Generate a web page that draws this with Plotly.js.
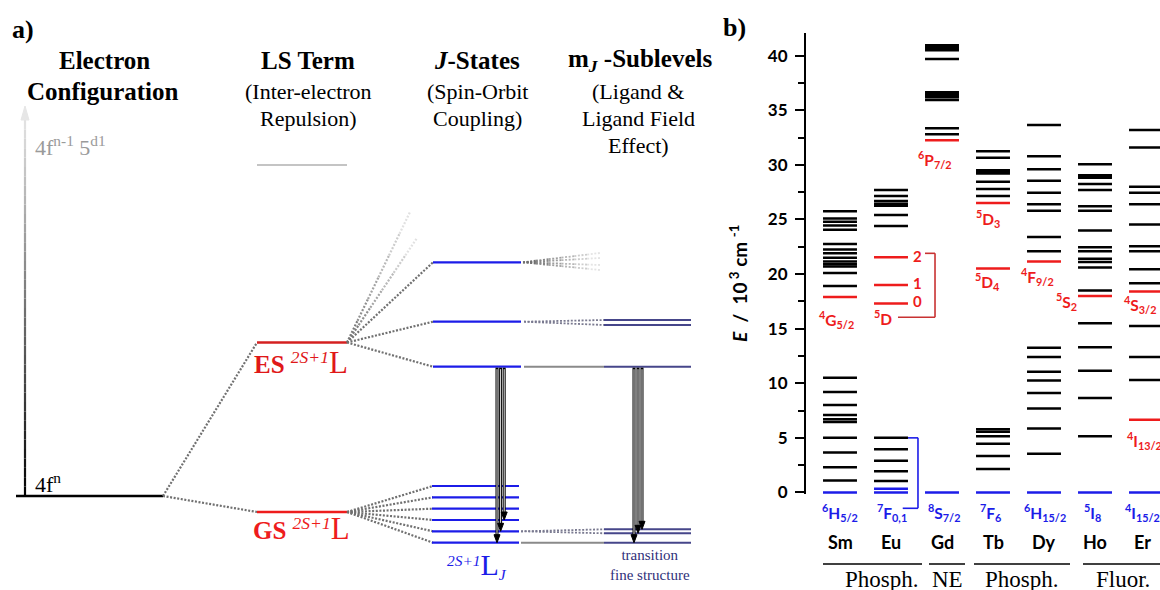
<!DOCTYPE html>
<html><head><meta charset="utf-8">
<script src="https://cdn.plot.ly/plotly-3.0.1.min.js"></script>
<style>html,body{margin:0;padding:0;background:#fff;} #chart{width:1160px;height:590px;}</style>
</head><body><div id="chart"></div>
<script>
// ================= Panel b data : E / 10^3 cm^-1 =================
const elements = ['Sm','Eu','Gd','Tb','Dy','Ho','Er'];
const groundTerms = ['<sup>6</sup>H<sub>5/2</sub>','<sup>7</sup>F<sub>0,1</sub>','<sup>8</sup>S<sub>7/2</sub>',
  '<sup>7</sup>F<sub>6</sub>','<sup>6</sup>H<sub>15/2</sub>','<sup>5</sup>I<sub>8</sub>','<sup>4</sup>I<sub>15/2</sub>'];
const groupNames = ['Phosph.','NE','Phosph.','Fluor.'];

// black levels (other states)
const smLevels = [1.1, 2.3, 3.65, 5.0, 6.45, 6.7, 7.1, 8.0, 9.2, 10.5, 18.9, 20.1, 20.7, 20.9, 21.15, 21.5, 21.9, 22.25, 22.75, 24.05, 24.45, 24.8, 25.1, 25.75];
const euLevels = [1.05, 1.95, 2.9, 3.95, 5.0, 24.4, 25.4, 26.25, 26.45, 26.7, 27.15, 27.7];
const gdLevels = [32.8, 33.35, 35.95, 36.2, 36.35, 36.5, 36.65, 39.7, 40.5, 40.65, 40.8, 40.95];
const tbLevels = [2.15, 3.35, 4.45, 5.15, 5.55, 5.8, 27.15, 27.8, 28.45, 29.22, 29.36, 29.5, 30.65, 31.25];
const dyLevels = [3.55, 5.85, 7.7, 9.1, 10.25, 11.05, 12.4, 13.25, 22.1, 23.4, 25.8, 26.4, 27.45, 28.55, 29.6, 30.8, 33.65];
const hoLevels = [5.15, 8.65, 11.15, 13.3, 15.5, 18.5, 20.6, 21.1, 21.4, 22.1, 22.45, 24.0, 25.8, 26.2, 27.7, 28.25, 28.82, 28.95, 29.05, 30.05];
const erLevels = [10.3, 12.4, 15.25, 19.15, 20.45, 22.1, 22.55, 24.55, 26.4, 27.45, 28.0, 31.6, 33.2];
// red levels (emitting states)
const smEmitting = [17.9];
const euEmitting = [17.3, 19.0, 21.55];
const gdEmitting = [32.25];
const tbEmitting = [20.5, 26.5];
const dyEmitting = [21.15];
const hoEmitting = [18.0];
const erEmitting = [6.65, 18.4];
// blue levels (ground states)
const smGround = [0];
const euGround = [0, 0.35];
const gdGround = [0];
const tbGround = [0];
const dyGround = [0];
const hoGround = [0];
const erGround = [0];

// ================= Panel a (schematic) data : schematic energy =================
const cfgLevel = [94];                       // 4f^n
const lsLevels = [247.5, 78];                // ES, GS
const lsUpperLevel = [425];                  // term of 4f^(n-1)5d^1
const jFromES = [327.7, 268.3, 223.3];
const jFromGS = [104, 92.7, 81.3, 70, 58.7, 47.3];
const mjFaint = [337, 332, 325, 320];        // fading, from jFromES[0]
const mjOfJ2 = [270, 265];                   // from jFromES[1]
const mjOfJ3 = [223.3];                      // from jFromES[2]
const mjOfG5 = [60.7, 56.7];                 // from jFromGS[4]
const mjOfG6 = [47.3];                       // from jFromGS[5]
const esFaint = [378, 352];                  // fading lines going up from ES
const arrowEndsJ = [47.3, 58.7, 70];
const arrowEndsMJ = [47.3, 56.7, 60.7];

// ================= build =================
const HW = 0.333;
const BLUE = '#1c1ce8', RED = '#ee1c1c';
const traces = [];

function levelTrace(sets, color, width){
  const x=[], y=[];
  sets.forEach((arr,i)=>arr.forEach(e=>{x.push(i-HW,i+HW,null); y.push(e,e,null);}));
  return {type:'scatter',mode:'lines',x,y,xaxis:'x2',yaxis:'y2',line:{color,width},hoverinfo:'skip',showlegend:false};
}
traces.push(levelTrace([smLevels,euLevels,gdLevels,tbLevels,dyLevels,hoLevels,erLevels],'#000',2.5));
traces.push(levelTrace([smEmitting,euEmitting,gdEmitting,tbEmitting,dyEmitting,hoEmitting,erEmitting],RED,2.5));
traces.push(levelTrace([smGround,euGround,gdGround,tbGround,dyGround,hoGround,erGround],BLUE,2.5));

// panel a helpers (x in px-like units, y in schematic energy)
function seg(x0,y0,x1,y1,color,width,dash){
  traces.push({type:'scatter',mode:'lines',x:[x0,x1],y:[y0,y1],xaxis:'x',yaxis:'y',
    line:{color,width,dash:dash||'solid'},hoverinfo:'skip',showlegend:false});
}
function grey(v){v=Math.round(v);return 'rgb('+v+','+v+','+v+')';}
function fade(x0,y0,x1,y1,n,g0,g1,width,dash){
  for(let k=0;k<n;k++){
    const a=k/n,b=(k+1)/n;
    seg(x0+(x1-x0)*a,y0+(y1-y0)*a,x0+(x1-x0)*b,y0+(y1-y0)*b,grey(g0+(g1-g0)*(a+b)/2),width,dash);
  }
}
const DOT='2px,1.6px', CON='#707070';
const cfgX=[16,163], lsX=[257,347], jX=[433,521], mjX=[604,691];

// vertical gradient arrow (energy axis)
fade(25,cfgLevel[0],25,470,40,0,228,2.2);
traces.push({type:'scatter',mode:'lines',x:[21,29,25,21],y:[470,470,484,470],fill:'toself',fillcolor:'#e6e6e6',
  line:{color:'#e6e6e6',width:1},xaxis:'x',yaxis:'y',hoverinfo:'skip',showlegend:false});

// configuration level
seg(cfgX[0],cfgLevel[0],cfgX[1],cfgLevel[0],'#000',2.6);
// LS terms
seg(lsX[0],lsUpperLevel[0],lsX[1],lsUpperLevel[0],'#c4c4c4',2.2);
lsLevels.forEach(e=>{ seg(cfgX[1],cfgLevel[0],lsX[0],e,CON,2.2,DOT); });
seg(lsX[0],lsLevels[0],lsX[1],lsLevels[0],'#d42020',2.4);
seg(lsX[0],lsLevels[1],lsX[1],lsLevels[1],RED,2.6);
// ES -> J connectors
esFaint.forEach(e=>{ fade(lsX[1],lsLevels[0],lsX[1]+(e===esFaint[0]?63:70),e,6,112,235,2.2,DOT); });
jFromES.forEach(e=>{ seg(lsX[1],lsLevels[0],jX[0],e,CON,2.2,DOT); });
jFromGS.forEach(e=>{ seg(lsX[1],lsLevels[1],jX[0],e,CON,2.2,DOT); });
// J levels
jFromES.forEach(e=>seg(jX[0],e,jX[1],e,BLUE,2.2));
jFromGS.forEach(e=>seg(jX[0]-1,e,jX[1]-2,e,BLUE,2.2));
// J -> mJ
mjFaint.forEach(e=>fade(jX[1]+2,jFromES[0],600,e,6,100,240,1.8,DOT));
mjOfJ2.forEach(e=>seg(jX[1]+3,jFromES[1],mjX[0],e,'#7a7a90',1.8,DOT));
mjOfJ3.forEach(e=>seg(jX[1]+3,jFromES[2],mjX[0],e,'#8a8a8a',2));
mjOfG5.forEach(e=>seg(jX[1],jFromGS[4],mjX[0],e,'#7a7a90',1.8,DOT));
mjOfG6.forEach(e=>seg(jX[1],jFromGS[5],mjX[0],e,'#8a8a8a',2));
[mjOfJ2,mjOfJ3,mjOfG5,mjOfG6].forEach(arr=>arr.forEach(e=>seg(mjX[0],e,mjX[1],e,'#46468a',2)));

// transition arrows
function arrow(x,top,end){
  seg(x,top-1,x,end+7,'#000',3.0);
  seg(x,top-2.5,x,end+8,'#fff',0.9);
  traces.push({type:'scatter',mode:'lines',x:[x-3,x+3,x,x-3],y:[end+8,end+8,end,end+8],fill:'toself',fillcolor:'#000',
    line:{color:'#000',width:1},xaxis:'x',yaxis:'y',hoverinfo:'skip',showlegend:false});
}
[497,500.6,504.2].forEach((x,k)=>arrow(x,jFromES[2],arrowEndsJ[k]));
[634,638,642].forEach((x,k)=>arrow(x,mjOfJ3[0],arrowEndsMJ[k]));

// ================= axes geometry for panel b =================
const yDom=[1-494.1/590,1-33.3/590], yRng=[-0.15,42.05];
const xDom=[806/1160,1], xRng=[(806-840)/51,(1160-840)/51];
const yp=e=>yDom[0]+(e-yRng[0])/(yRng[1]-yRng[0])*(yDom[1]-yDom[0]);
const xp=i=>xDom[0]+(i-xRng[0])/(xRng[1]-xRng[0])*(xDom[1]-xDom[0]);

// ================= annotations =================
const SERIF='Liberation Serif', SANS='Lato';
const ann=[];
function tA(text,px,py,size,opt){ // panel a, pixel placement
  ann.push(Object.assign({text,x:px,y:590-py,xref:'x',yref:'y',showarrow:false,
    font:{family:SERIF,size,color:'#000'},xanchor:'center',yanchor:'middle'},opt||{}));
}
tA('<b>a)</b>',23,29,26);
tA('<b>b)</b>',734,27,26);
tA('<b>Electron</b>',104,60,25);
tA('<b>Configuration</b>',103,91,25);
tA('<b>LS Term</b>',308,60,25);
tA('(Inter-electron',308,91,22);
tA('Repulsion)',308,118,22);
tA('<b><i>J</i>-States</b>',477,60,25);
tA('(Spin-Orbit',477,91,22);
tA('Coupling)',477,118,22);
tA('<b>m<sub><i>J</i></sub> -Sublevels</b>',640,60,25);
tA('(Ligand &',638,91,22);
tA('Ligand Field',638,118,22);
tA('Effect)',638,145,22);
tA('4f<sup>n-1</sup> 5<sup>d1</sup>',33,146,22,{xanchor:'left',font:{family:SERIF,size:22,color:'#9a9a9a'}});
tA('4f<sup>n</sup>',33,483,22,{xanchor:'left'});
tA('<b>ES</b> <sup><i>2S+1</i></sup><span style="font-size:31px">L</span>',301,362,25,{font:{family:SERIF,size:25,color:'#e01818'}});
tA('<b>GS</b> <sup><i>2S+1</i></sup><span style="font-size:31px">L</span>',301,528,25,{font:{family:SERIF,size:25,color:'#ee1c1c'}});
tA('<sup><i>2S+1</i></sup><span style="font-size:30px">L</span><sub><i>J</i></sub>',477,565,22,{font:{family:SERIF,size:22,color:BLUE}});
tA('transition<br>fine structure',650,565,15,{font:{family:SERIF,size:15,color:'#30307a'}});

function tB(text,i,e,size,color,opt){ // panel b, placed in data units, drawn via paper
  ann.push(Object.assign({text,x:xp(i),y:yp(e),xref:'paper',yref:'paper',showarrow:false,
    font:{family:SANS,size,color,weight:700},xanchor:'center',yanchor:'middle'},opt||{}));
}
const groundLabelX=[0,1.02,2.04,2.96,4.02,4.96,5.94];
groundTerms.forEach((t,i)=>tB(t,groundLabelX[i],-1.85,15.5,BLUE));
elements.forEach((t,i)=>tB(t,i===6?5.94:i,-4.53,18,'#000'));
tB('<sup>4</sup>G<sub>5/2</sub>',-0.06,15.8,15.5,RED);
tB('<sup>5</sup>D',0.84,16.0,15.5,RED);
tB('2',1.51,21.7,15,RED);
tB('1',1.51,19.2,15,RED);
tB('0',1.51,17.5,15,RED);
tB('<sup>6</sup>P<sub>7/2</sub>',1.86,30.45,15.5,RED);
tB('<sup>5</sup>D<sub>3</sub>',2.90,25.1,15.5,RED);
tB('<sup>5</sup>D<sub>4</sub>',2.90,19.3,15.5,RED);
tB('<sup>4</sup>F<sub>9/2</sub>',3.88,19.8,15.5,RED);
tB('<sup>5</sup>S<sub>2</sub>',4.45,17.45,15.5,RED);
tB('<sup>4</sup>S<sub>3/2</sub>',5.88,17.25,15.5,RED);
tB('<sup>4</sup>I<sub>13/2</sub>',5.98,4.8,15.5,RED);

// y-axis title
ann.push({text:'<b><i>E</i>  /  10<sup> 3</sup> cm <sup>-1</sup></b>',x:738/1160,y:1-283/590,xref:'paper',yref:'paper',
  showarrow:false,textangle:-90,font:{family:SANS,size:19,color:'#000'},xanchor:'center',yanchor:'middle'});

// group labels
const groupCenters=[882,947,1022,1123];
groupNames.forEach((g,k)=>ann.push({text:g,x:groupCenters[k]/1160,y:1-579/590,xref:'paper',yref:'paper',showarrow:false,
  font:{family:SERIF,size:23,color:'#000'},xanchor:'center',yanchor:'middle'}));

// ================= shapes =================
const shapes=[];
function pline(x0,y0,x1,y1,color,w){shapes.push({type:'line',xref:'paper',yref:'paper',x0,y0,x1,y1,line:{color,width:w}});}
// Eu 5D bracket (red)
const brTop=21.9, brBot=16.05;
pline(xp(1.667),yp(brTop),xp(1.863),yp(brTop),'#c83232',1.6);
pline(xp(1.863),yp(brTop),xp(1.863),yp(brBot),'#c83232',1.6);
pline(xp(1.137),yp(brBot),xp(1.863),yp(brBot),'#c83232',1.6);
// Eu 7F bracket (blue)
const bbTop=5.0, bbBot=-1.45;
pline(xp(1.333),yp(bbTop),xp(1.529),yp(bbTop),BLUE,1.6);
pline(xp(1.529),yp(bbTop),xp(1.529),yp(bbBot),BLUE,1.6);
pline(xp(1.23),yp(bbBot),xp(1.529),yp(bbBot),BLUE,1.6);
// group underlines
[[823,922],[929,965],[974,1070],[1083,1160]].forEach(s=>pline(s[0]/1160,1-564/590,s[1]/1160,1-564/590,'#000',1.5));

const layout={
  width:1160,height:590,margin:{l:0,r:0,t:0,b:0},paper_bgcolor:'#fff',plot_bgcolor:'rgba(0,0,0,0)',
  showlegend:false,hovermode:false,
  xaxis:{domain:[0,1],range:[0,1160],visible:false,fixedrange:true},
  yaxis:{domain:[0,1],range:[0,590],visible:false,fixedrange:true},
  xaxis2:{domain:xDom,range:xRng,visible:false,anchor:'y2',fixedrange:true},
  yaxis2:{domain:yDom,range:yRng,anchor:'x2',showline:true,linecolor:'#000',linewidth:2,
    ticks:'outside',ticklen:9,tickwidth:2,tickcolor:'#000',tick0:0,dtick:5,showgrid:false,zeroline:false,
    tickfont:{family:SANS,size:17,color:'#000',weight:700},ticklabelstandoff:4,fixedrange:true,
    minor:{tick0:0,dtick:2.5,ticks:'outside',ticklen:6,tickwidth:2,tickcolor:'#000',showgrid:false}},
  annotations:ann,shapes
};
Plotly.newPlot('chart',traces,layout,{staticPlot:true,displayModeBar:false});
</script></body></html>
